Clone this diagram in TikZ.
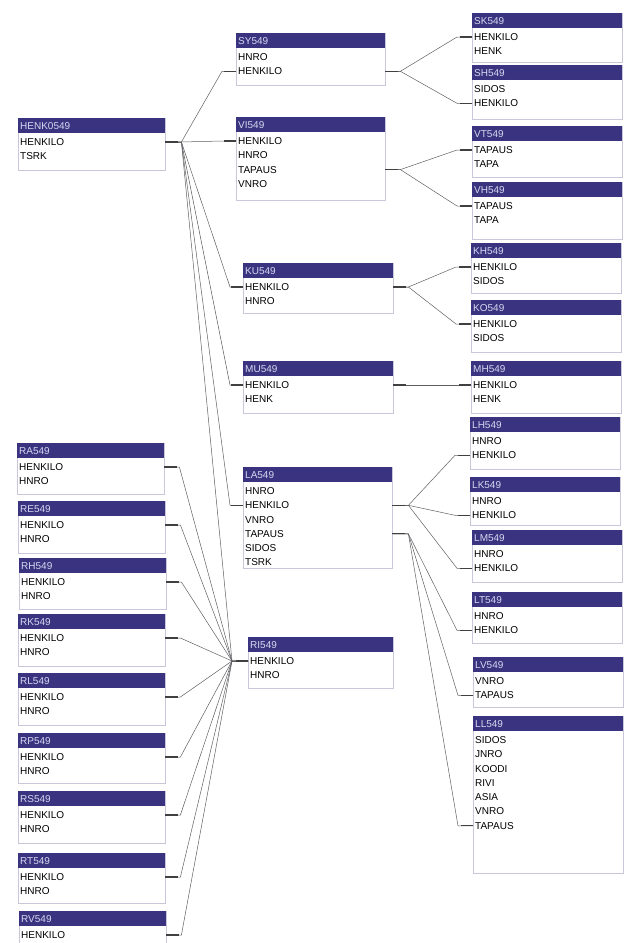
\documentclass[tikz,border=0pt]{standalone}
\usepackage{fontspec}
\setmainfont{Liberation Sans}
\usepackage{tikz}
\usetikzlibrary{positioning, calc}

\definecolor{hdrblue}{RGB}{58,52,128}
\definecolor{hdrtext}{RGB}{215,215,240}
\definecolor{boxline}{RGB}{200,200,218}
\definecolor{linkgray}{RGB}{95,95,100}

% table: name, title, x, y, width, height, fields
\newcommand{\dbtable}[7]{%
  \pgfmathsetmacro{\tw}{#5-4}%
  \node[tblbody, minimum width=#5pt, minimum height=#6pt] (#1-body) at (#3,#4) {};
  \node[tblhead, text width=\tw pt] (#1) at (#3,#4) {#2};
  \foreach \f [count=\i] in {#7} {
    \pgfmathsetmacro{\fy}{#4+24+(\i-1)*14.3}
    \node[tblfield, text width=\tw pt] (#1-\f) at (#3,\fy) {\f};
  }
}

\begin{document}
\begin{tikzpicture}[
    x=1pt, y=-1pt,
    tblbody/.style={anchor=north west, draw=boxline, fill=white, inner sep=0pt},
    tblhead/.style={anchor=north west, fill=hdrblue, text=hdrtext, inner xsep=2pt, inner ysep=0pt,
      minimum height=15pt, font=\fontsize{10}{12}\selectfont},
    tblfield/.style={anchor=west, inner xsep=2pt, inner ysep=0pt, text=black,
      font=\fontsize{10}{12}\selectfont},
    link/.style={draw=linkgray, line width=0.5pt},
    stub/.style={draw=black!75, line width=1.1pt}
]
    \clip (0,0) rectangle (624,943);

    % main table
    \dbtable{henk}{HENK0549}{18}{118}{147}{52}{HENKILO,TSRK}

    % middle column
    \dbtable{sy}{SY549}{236}{33}{149}{52}{HNRO,HENKILO}
    \dbtable{vi}{VI549}{236}{117}{149}{83}{HENKILO,HNRO,TAPAUS,VNRO}
    \dbtable{ku}{KU549}{243}{263}{150}{50}{HENKILO,HNRO}
    \dbtable{mu}{MU549}{243}{361}{150}{52}{HENKILO,HENK}
    \dbtable{la}{LA549}{243}{467}{149}{101}{HNRO,HENKILO,VNRO,TAPAUS,SIDOS,TSRK}
    \dbtable{ri}{RI549}{248}{637}{145}{51}{HENKILO,HNRO}

    % right column
    \dbtable{sk}{SK549}{472}{13}{150}{49}{HENKILO,HENK}
    \dbtable{sh}{SH549}{472}{65}{150}{54}{SIDOS,HENKILO}
    \dbtable{vt}{VT549}{472}{126}{150}{51}{TAPAUS,TAPA}
    \dbtable{vh}{VH549}{472}{182}{150}{57}{TAPAUS,TAPA}
    \dbtable{kh}{KH549}{471}{243}{150}{50}{HENKILO,SIDOS}
    \dbtable{ko}{KO549}{471}{300}{150}{52}{HENKILO,SIDOS}
    \dbtable{mh}{MH549}{471}{361}{150}{52}{HENKILO,HENK}
    \dbtable{lh}{LH549}{470}{417}{150}{52}{HNRO,HENKILO}
    \dbtable{lk}{LK549}{470}{477}{150}{48}{HNRO,HENKILO}
    \dbtable{lm}{LM549}{472}{530}{150}{52}{HNRO,HENKILO}
    \dbtable{lt}{LT549}{472}{592}{150}{51}{HNRO,HENKILO}
    \dbtable{lv}{LV549}{473}{657}{150}{50}{VNRO,TAPAUS}
    \dbtable{ll}{LL549}{473}{716}{150}{157}{SIDOS,JNRO,KOODI,RIVI,ASIA,VNRO,TAPAUS}

    % left column
    \dbtable{ra}{RA549}{17}{443}{147}{51}{HENKILO,HNRO}
    \dbtable{re}{RE549}{18}{501}{147}{52}{HENKILO,HNRO}
    \dbtable{rh}{RH549}{19}{558}{147}{51}{HENKILO,HNRO}
    \dbtable{rk}{RK549}{18}{614}{147}{52}{HENKILO,HNRO}
    \dbtable{rl}{RL549}{18}{673}{147}{52}{HENKILO,HNRO}
    \dbtable{rp}{RP549}{18}{733}{147}{50}{HENKILO,HNRO}
    \dbtable{rs}{RS549}{18}{791}{147}{52}{HENKILO,HNRO}
    \dbtable{rt}{RT549}{18}{853}{147}{50}{HENKILO,HNRO}
    \dbtable{rv}{RV549}{19}{911}{147}{52}{HENKILO}

    % links from the main table
    \draw[link] (henk-HENKILO.east) -- ++(16,0) -- ([xshift=-14pt]sy-HENKILO.west) -- (sy-HENKILO.west);
    \draw[link] (henk-HENKILO.east) -- ++(16,0) -- ([xshift=-14pt]vi-HENKILO.west) -- (vi-HENKILO.west);
    \draw[link] (henk-HENKILO.east) -- ++(16,0) -- ([xshift=-13pt]ku-HENKILO.west) -- (ku-HENKILO.west);
    \draw[link] (henk-HENKILO.east) -- ++(16,0) -- ([xshift=-13pt]mu-HENKILO.west) -- (mu-HENKILO.west);
    \draw[link] (henk-HENKILO.east) -- ++(16,0) -- ([xshift=-13pt]la-HENKILO.west) -- (la-HENKILO.west);
    \draw[link] (henk-HENKILO.east) -- ++(16,0) -- ([xshift=-16pt]ri-HENKILO.west) -- (ri-HENKILO.west);

    % middle to right
    \draw[link] (sy-HENKILO.east) -- ++(15,0) -- ([xshift=-15pt]sk-HENKILO.west) -- (sk-HENKILO.west);
    \draw[link] (sy-HENKILO.east) -- ++(15,0) -- ([xshift=-15pt]sh-HENKILO.west) -- (sh-HENKILO.west);
    \draw[link] (vi-TAPAUS.east) -- ++(15,0) -- ([xshift=-15pt]vt-TAPAUS.west) -- (vt-TAPAUS.west);
    \draw[link] (vi-TAPAUS.east) -- ++(15,0) -- ([xshift=-15pt]vh-TAPAUS.west) -- (vh-TAPAUS.west);
    \draw[link] (ku-HENKILO.east) -- ++(15,0) -- ([xshift=-15pt]kh-HENKILO.west) -- (kh-HENKILO.west);
    \draw[link] (ku-HENKILO.east) -- ++(15,0) -- ([xshift=-15pt]ko-HENKILO.west) -- (ko-HENKILO.west);
    \draw[link] (mu-HENKILO.east) -- (mh-HENKILO.west);
    \draw[link] (la-HENKILO.east) -- ++(16,0) -- ([xshift=-15pt]lh-HENKILO.west) -- (lh-HENKILO.west);
    \draw[link] (la-HENKILO.east) -- ++(16,0) -- ([xshift=-15pt]lk-HENKILO.west) -- (lk-HENKILO.west);
    \draw[link] (la-HENKILO.east) -- ++(16,0) -- ([xshift=-15pt]lm-HENKILO.west) -- (lm-HENKILO.west);
    \draw[link] (la-TAPAUS.east) -- ++(16,0) -- ([xshift=-15pt]lt-HENKILO.west) -- (lt-HENKILO.west);
    \draw[link] (la-TAPAUS.east) -- ++(16,0) -- ([xshift=-15pt]lv-TAPAUS.west) -- (lv-TAPAUS.west);
    \draw[link] (la-TAPAUS.east) -- ++(16,0) -- ([xshift=-15pt]ll-TAPAUS.west) -- (ll-TAPAUS.west);

    % left column into RI549
    \foreach \t in {ra,re,rh,rk,rl,rp,rs,rt,rv}
        \draw[link] (\t-HENKILO.east) -- ++(15,0) -- ([xshift=-16pt]ri-HENKILO.west) -- (ri-HENKILO.west);

    % short thick ends at the tables
    \foreach \p in {henk-HENKILO,sy-HENKILO,vi-TAPAUS,ku-HENKILO,mu-HENKILO,la-HENKILO,la-TAPAUS,
                    ra-HENKILO,re-HENKILO,rh-HENKILO,rk-HENKILO,rl-HENKILO,rp-HENKILO,rs-HENKILO,rt-HENKILO,rv-HENKILO}
        \draw[stub] (\p.east) -- ++(13,0);
    \foreach \p in {sy-HENKILO,vi-HENKILO,ku-HENKILO,mu-HENKILO,la-HENKILO,ri-HENKILO,
                    sk-HENKILO,sh-HENKILO,vt-TAPAUS,vh-TAPAUS,kh-HENKILO,ko-HENKILO,mh-HENKILO,
                    lh-HENKILO,lk-HENKILO,lm-HENKILO,lt-HENKILO,lv-TAPAUS,ll-TAPAUS}
        \draw[stub] (\p.west) -- ++(-12,0);
\end{tikzpicture}
\end{document}
